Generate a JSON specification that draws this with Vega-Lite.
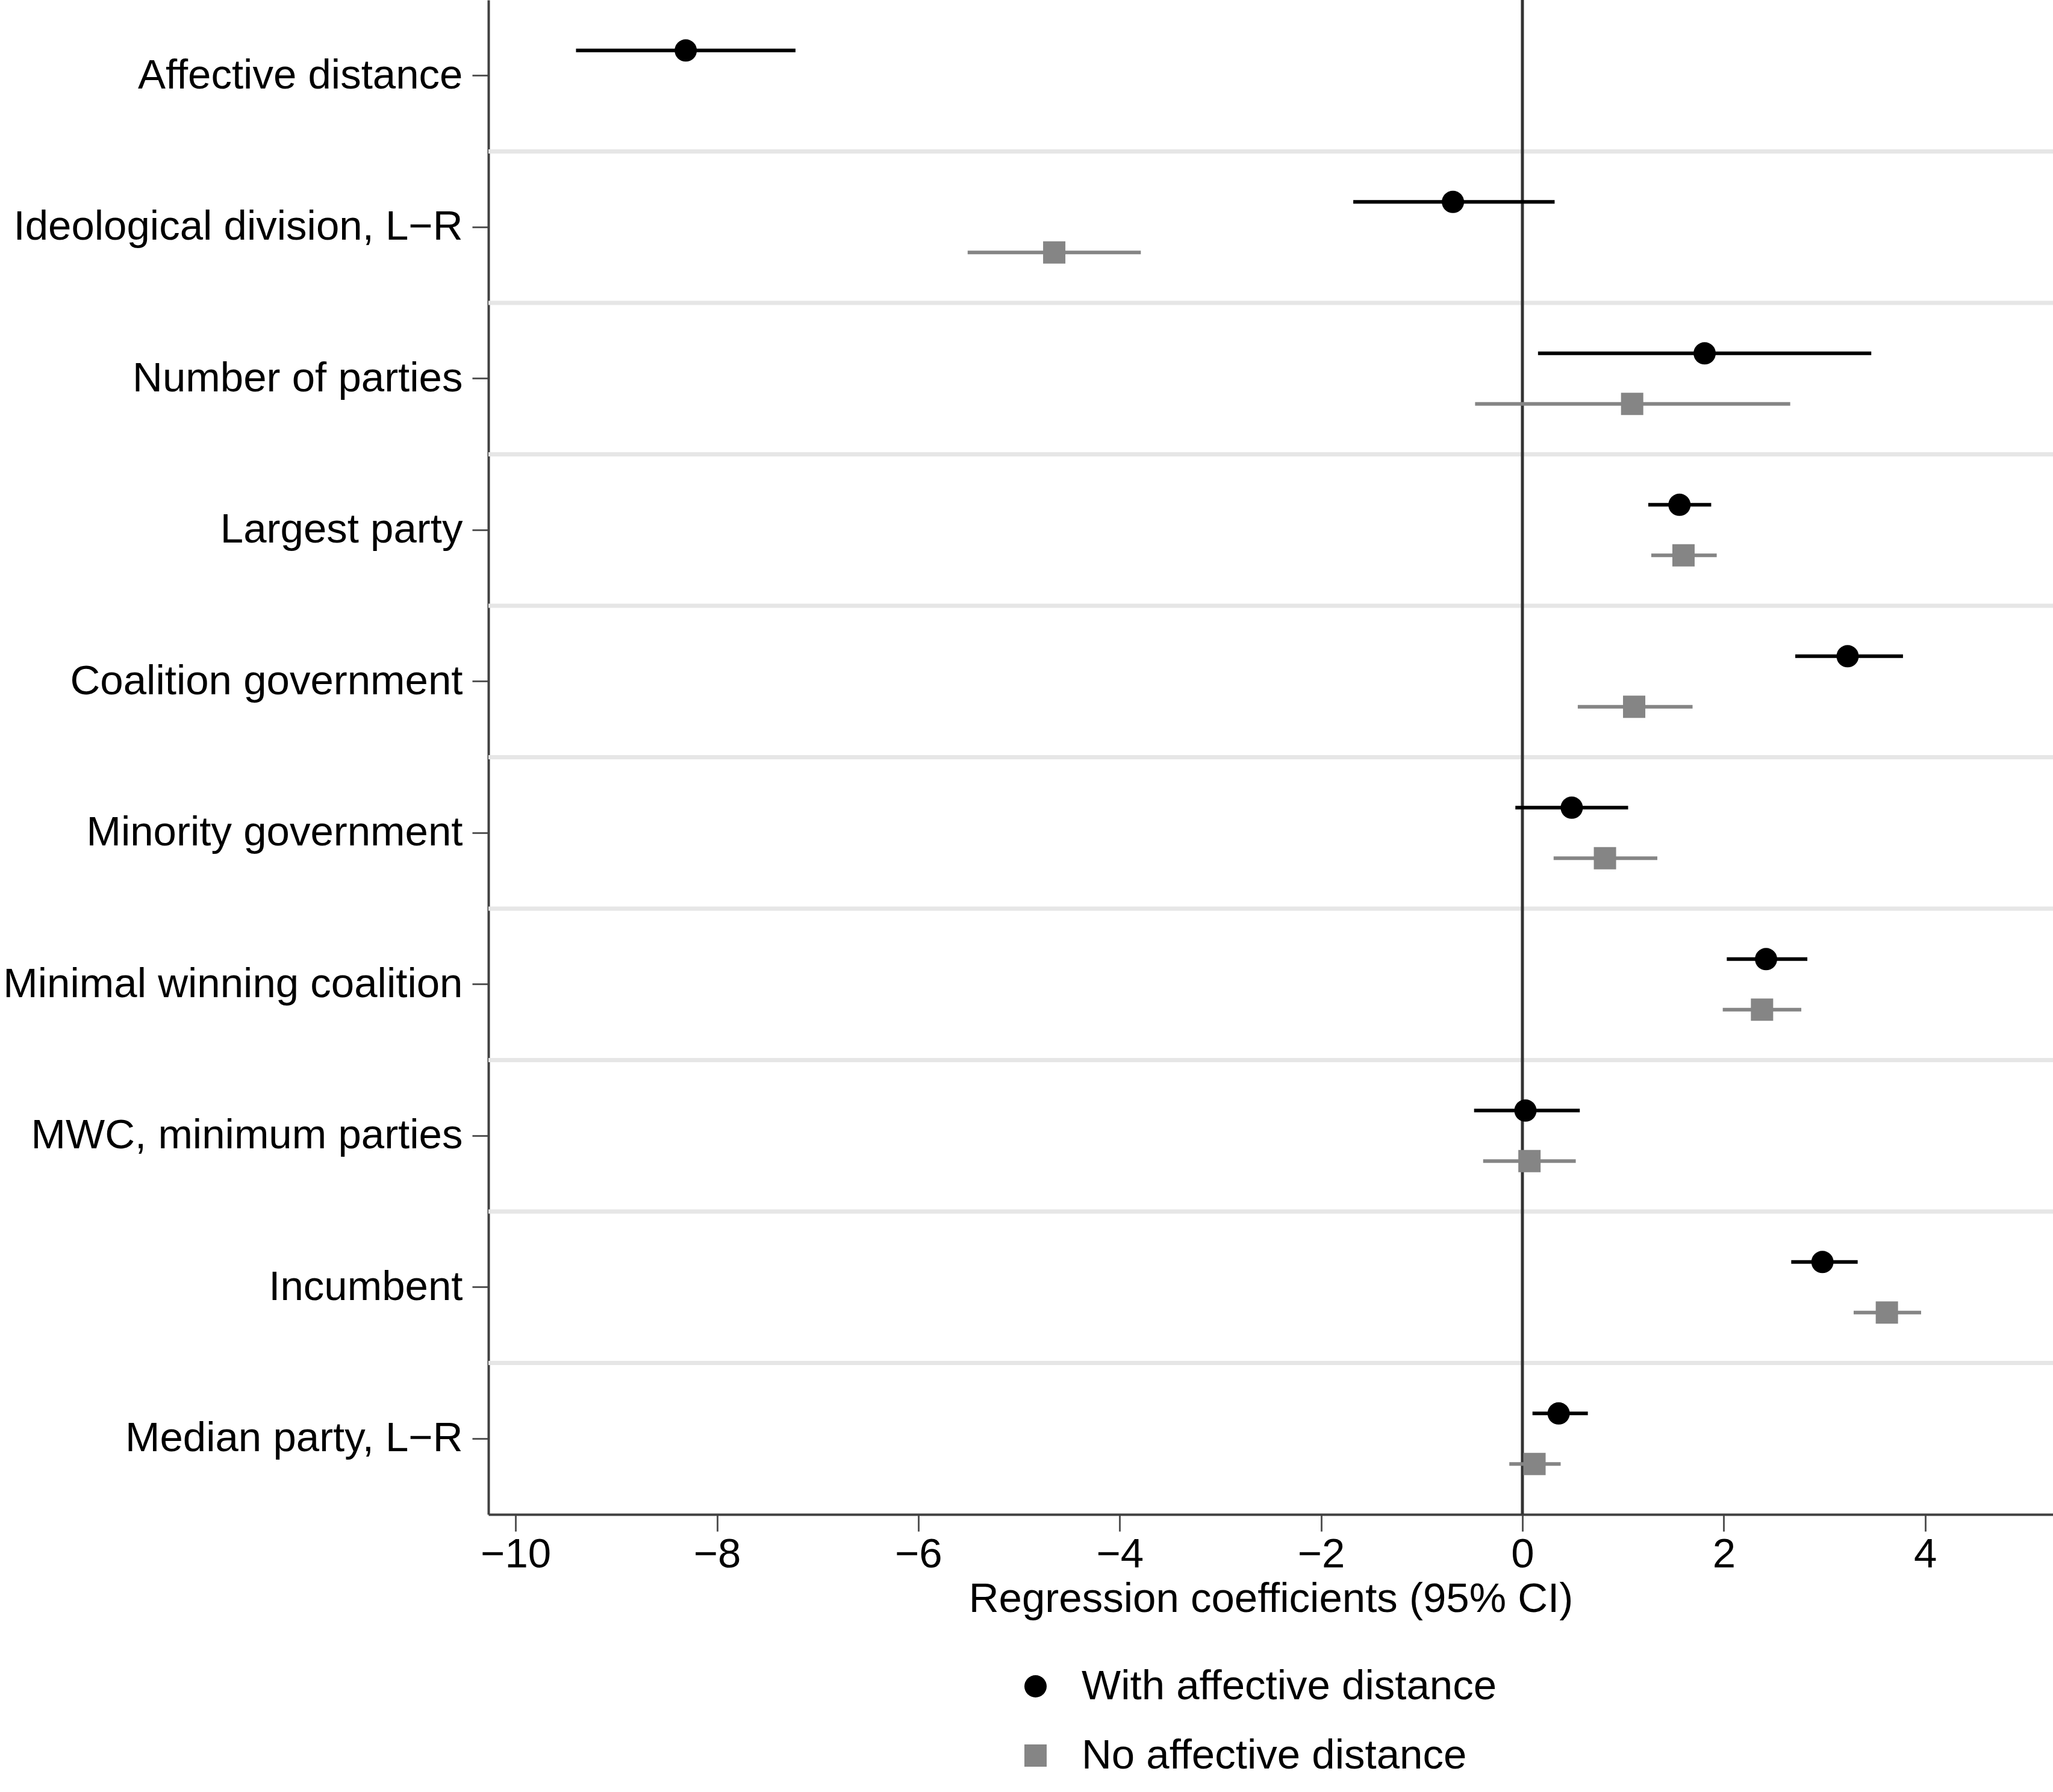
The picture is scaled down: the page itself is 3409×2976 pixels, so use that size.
{
  "$schema": "https://vega.github.io/schema/vega-lite/v6.json",
  "description": "Regression coefficients with and without affective distance (95% CI).",
  "width": 2598,
  "height": 2515,
  "autosize": "none",
  "padding": {"left": 811, "top": 0, "right": 0, "bottom": 461},
  "config": {
    "view": {"stroke": null},
    "font": "Liberation Sans",
    "axis": {
      "labelFont": "Liberation Sans",
      "titleFont": "Liberation Sans",
      "labelColor": "#000000",
      "titleColor": "#000000",
      "labelFontSize": 69,
      "titleFontSize": 69,
      "titleFontWeight": "normal",
      "domainColor": "#404040",
      "domainWidth": 4,
      "tickColor": "#555555",
      "tickWidth": 3,
      "grid": false
    },
    "legend": {"labelFont": "Liberation Sans", "labelFontSize": 69, "labelColor": "#000000", "labelLimit": 2000}
  },
  "data": {
    "values": [
      {"term": "Affective distance", "series": "With affective distance", "est": -8.31, "lo": -9.40, "hi": -7.22},
      {"term": "Ideological division, L−R", "series": "With affective distance", "est": -0.69, "lo": -1.68, "hi": 0.32},
      {"term": "Ideological division, L−R", "series": "No affective distance", "est": -4.65, "lo": -5.51, "hi": -3.79},
      {"term": "Number of parties", "series": "With affective distance", "est": 1.81, "lo": 0.155, "hi": 3.465},
      {"term": "Number of parties", "series": "No affective distance", "est": 1.09, "lo": -0.47, "hi": 2.66},
      {"term": "Largest party", "series": "With affective distance", "est": 1.56, "lo": 1.25, "hi": 1.875},
      {"term": "Largest party", "series": "No affective distance", "est": 1.60, "lo": 1.28, "hi": 1.93},
      {"term": "Coalition government", "series": "With affective distance", "est": 3.23, "lo": 2.71, "hi": 3.78},
      {"term": "Coalition government", "series": "No affective distance", "est": 1.11, "lo": 0.55, "hi": 1.69},
      {"term": "Minority government", "series": "With affective distance", "est": 0.49, "lo": -0.07, "hi": 1.05},
      {"term": "Minority government", "series": "No affective distance", "est": 0.82, "lo": 0.31, "hi": 1.34},
      {"term": "Minimal winning coalition", "series": "With affective distance", "est": 2.42, "lo": 2.03, "hi": 2.83},
      {"term": "Minimal winning coalition", "series": "No affective distance", "est": 2.38, "lo": 1.99, "hi": 2.77},
      {"term": "MWC, minimum parties", "series": "With affective distance", "est": 0.03, "lo": -0.48, "hi": 0.57},
      {"term": "MWC, minimum parties", "series": "No affective distance", "est": 0.07, "lo": -0.39, "hi": 0.53},
      {"term": "Incumbent", "series": "With affective distance", "est": 2.98, "lo": 2.67, "hi": 3.33},
      {"term": "Incumbent", "series": "No affective distance", "est": 3.62, "lo": 3.29, "hi": 3.96},
      {"term": "Median party, L−R", "series": "With affective distance", "est": 0.36, "lo": 0.10, "hi": 0.65},
      {"term": "Median party, L−R", "series": "No affective distance", "est": 0.12, "lo": -0.13, "hi": 0.38}
    ]
  },
  "layer": [
    {
      "transform": [{"filter": "datum.series === 'With affective distance' && datum.term !== 'Affective distance'"}],
      "mark": {"type": "rule", "color": "#e6e6e6", "strokeWidth": 7},
      "encoding": {
        "y": {
          "field": "term",
          "type": "nominal",
          "bandPosition": 0,
          "sort": null,
          "scale": {
            "type": "band",
            "domain": ["Affective distance", "Ideological division, L−R", "Number of parties", "Largest party", "Coalition government", "Minority government", "Minimal winning coalition", "MWC, minimum parties", "Incumbent", "Median party, L−R"],
            "paddingInner": 0,
            "paddingOuter": 0
          },
          "axis": {"title": null, "tickSize": 27, "labelPadding": 16, "labelLimit": 1000}
        }
      }
    },
    {
      "data": {"values": [{"zero": 0}]},
      "mark": {"type": "rule", "color": "#333333", "strokeWidth": 5},
      "encoding": {
        "x": {
          "field": "zero",
          "type": "quantitative",
          "scale": {"domain": [-10.27, 5.27], "nice": false, "zero": false},
          "axis": {
            "title": "Regression coefficients (95% CI)",
            "values": [-10, -8, -6, -4, -2, 0, 2, 4],
            "format": "d",
            "tickSize": 28,
            "labelPadding": 4,
            "titlePadding": 5
          }
        }
      }
    },
    {
      "transform": [{"filter": "datum.series === 'With affective distance'"}],
      "mark": {"type": "rule", "strokeWidth": 6, "color": "#000000"},
      "encoding": {
        "y": {"field": "term", "type": "nominal", "bandPosition": 0.3333},
        "x": {"field": "lo", "type": "quantitative"},
        "x2": {"field": "hi"}
      }
    },
    {
      "transform": [{"filter": "datum.series === 'No affective distance'"}],
      "mark": {"type": "rule", "strokeWidth": 6, "color": "#858585"},
      "encoding": {
        "y": {"field": "term", "type": "nominal", "bandPosition": 0.6667},
        "x": {"field": "lo", "type": "quantitative"},
        "x2": {"field": "hi"}
      }
    },
    {
      "transform": [{"filter": "datum.series === 'With affective distance'"}],
      "mark": {"type": "point", "filled": true, "opacity": 1, "size": 1369},
      "encoding": {
        "y": {"field": "term", "type": "nominal", "bandPosition": 0.3333},
        "x": {"field": "est", "type": "quantitative"},
        "color": {
          "field": "series",
          "type": "nominal",
          "scale": {"domain": ["With affective distance", "No affective distance"], "range": ["#000000", "#858585"]},
          "legend": {
            "title": null,
            "orient": "none",
            "direction": "vertical",
            "legendX": 874,
            "legendY": 2766,
            "symbolSize": 1369,
            "symbolStrokeWidth": 0,
            "labelOffset": 42,
            "rowPadding": 45,
            "labelLimit": 2000
          }
        },
        "shape": {
          "field": "series",
          "type": "nominal",
          "scale": {"domain": ["With affective distance", "No affective distance"], "range": ["circle", "square"]}
        }
      }
    },
    {
      "transform": [{"filter": "datum.series === 'No affective distance'"}],
      "mark": {"type": "point", "filled": true, "opacity": 1, "size": 1369},
      "encoding": {
        "y": {"field": "term", "type": "nominal", "bandPosition": 0.6667},
        "x": {"field": "est", "type": "quantitative"},
        "color": {"field": "series", "type": "nominal"},
        "shape": {"field": "series", "type": "nominal"}
      }
    }
  ]
}
